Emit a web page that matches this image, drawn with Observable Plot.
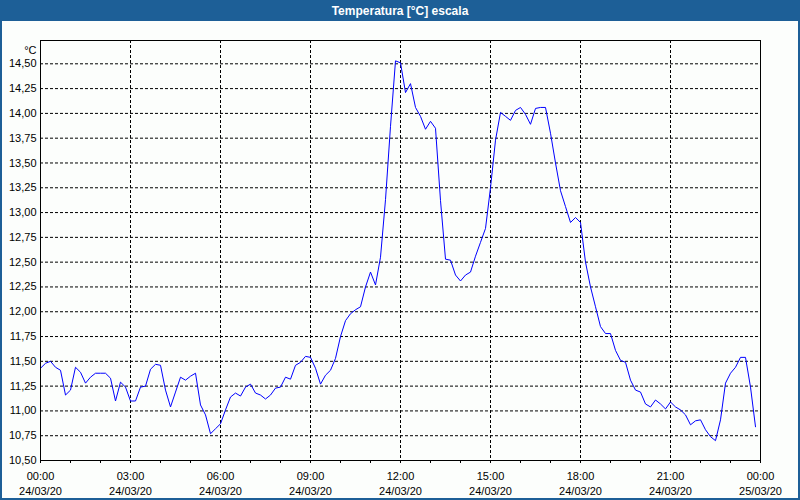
<!DOCTYPE html>
<html>
<head>
<meta charset="utf-8">
<script src="https://cdn.jsdelivr.net/npm/d3@7"></script>
<script src="https://cdn.jsdelivr.net/npm/@observablehq/plot@0.6"></script>
<style>
  html, body { margin: 0; padding: 0; background: #fcfefc; }
  #win { width: 800px; height: 500px; box-sizing: border-box; border: 2px solid #1d5f97; border-top: none; background: #fcfefc; overflow: hidden; }
  #title { height: 21px; box-sizing: border-box; padding-top: 4px; line-height: 14px; background: #1d5f97; color: #ffffff; font-family: "Liberation Sans", sans-serif; font-weight: bold; font-size: 12px; text-align: center; overflow: hidden; }
  #chart svg { display: block; }
</style>
</head>
<body>
<div id="win">
  <div id="title">Temperatura [°C] escala</div>
  <div id="chart"></div>
</div>
<script>
// Temperature readings, one every 10 minutes starting 24/03/20 00:00
const startTime = "2020-03-24T00:00:00Z";
const stepMinutes = 10;
const temperature = [
  11.43, 11.48, 11.50, 11.44, 11.41, 11.16, 11.21, 11.44, 11.39, 11.28,
  11.34, 11.38, 11.38, 11.38, 11.33, 11.10, 11.29, 11.24, 11.10, 11.10,
  11.24, 11.25, 11.42, 11.47, 11.46, 11.21, 11.04, 11.19, 11.34, 11.31,
  11.35, 11.38, 11.06, 10.96, 10.77, 10.82, 10.87, 11.01, 11.14, 11.18,
  11.15, 11.24, 11.27, 11.18, 11.16, 11.12, 11.16, 11.23, 11.24, 11.34,
  11.32, 11.46, 11.49, 11.55, 11.54, 11.43, 11.27, 11.36, 11.41, 11.53,
  11.75, 11.91, 11.98, 12.02, 12.05, 12.25, 12.40, 12.27, 12.55, 13.13,
  13.87, 14.53, 14.51, 14.21, 14.30, 14.06, 13.97, 13.84, 13.92, 13.85,
  13.12, 12.53, 12.52, 12.37, 12.31, 12.37, 12.40, 12.56, 12.70, 12.84,
  13.25, 13.73, 14.01, 13.97, 13.93, 14.03, 14.06, 13.99, 13.89, 14.05,
  14.06, 14.06, 13.80, 13.50, 13.22, 13.06, 12.90, 12.95, 12.90, 12.50,
  12.25, 12.05, 11.85, 11.78, 11.78, 11.61, 11.51, 11.49, 11.31, 11.21,
  11.19, 11.07, 11.04, 11.11, 11.07, 11.02, 11.09, 11.04, 11.01, 10.96,
  10.86, 10.90, 10.91, 10.81, 10.74, 10.70, 10.91, 11.28, 11.38, 11.44,
  11.54, 11.54, 11.24, 10.84
];
const yTicks = [10.50, 10.75, 11.00, 11.25, 11.50, 11.75, 12.00, 12.25, 12.50, 12.75, 13.00, 13.25, 13.50, 13.75, 14.00, 14.25, 14.50];
const yGrid = [10.75, 11.00, 11.25, 11.50, 11.75, 12.00, 12.25, 12.50, 12.75, 13.00, 13.25, 13.50, 13.75, 14.00, 14.25, 14.50];
const xMajorHours = [0, 3, 6, 9, 12, 15, 18, 21, 24];
const xGridHours = [3, 6, 9, 12, 15, 18, 21];
const xMinorHours = [0, 1, 2, 3, 4, 5, 6, 7, 8, 9, 10, 11, 12, 13, 14, 15, 16, 17, 18, 19, 20, 21, 22, 23, 24];
const yUnit = "°C";
const yDomain = [10.5, 14.735];

const t0 = new Date(startTime);
const atHour = h => new Date(t0.getTime() + h * 3600e3);
const data = temperature.map((v, i) => ({ time: new Date(t0.getTime() + i * stepMinutes * 60e3), value: v }));
const fmtX = d3.utcFormat("%H:%M\n%d/%m/%y");
const fmtY = d => d.toFixed(2).replace(".", ",");

const chart = Plot.plot({
  width: 796,
  height: 477,
  marginLeft: 38,
  marginRight: 38,
  marginTop: 19,
  marginBottom: 38,
  style: { fontFamily: "Liberation Sans, sans-serif", fontSize: "11px", background: "transparent", color: "#000" },
  x: { type: "utc", domain: [atHour(0), atHour(24)] },
  y: { domain: yDomain },
  marks: [
    Plot.gridY(yGrid, { stroke: "#000", strokeOpacity: 1, strokeDasharray: "3,2" }),
    Plot.gridX(xGridHours.map(atHour), { stroke: "#000", strokeOpacity: 1, strokeDasharray: "3,2" }),
    Plot.axisY(yTicks, { tickSize: 0, tickPadding: 4, tickFormat: fmtY, label: null, fill: "#000" }),
    Plot.axisX(xMinorHours.map(atHour), { tickSize: 3, tickFormat: () => "", label: null, stroke: "#000" }),
    Plot.axisX(xMajorHours.map(atHour), { tickSize: 3, tickPadding: 6, tickFormat: fmtX, label: null, lineHeight: 1.36, fill: "#000", stroke: "#000" }),
    Plot.text([yUnit], { frameAnchor: "top-left", text: d => d, textAnchor: "end", dx: -4, dy: 6, fill: "#000" }),
    Plot.line(data, { x: "time", y: "value", stroke: "#0000ff", strokeWidth: 1 }),
    Plot.frame({ stroke: "#000" })
  ]
});
document.getElementById("chart").appendChild(chart);
</script>
</body>
</html>
